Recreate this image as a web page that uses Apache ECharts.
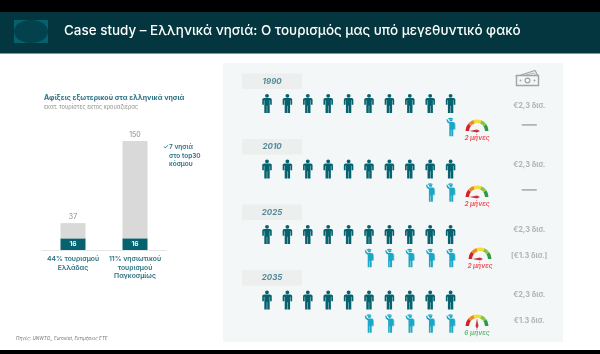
<!DOCTYPE html>
<html>
<head>
<meta charset="utf-8">
<style>
  html, body { margin: 0; padding: 0; background: #fff; }
  #chart { width: 600px; height: 354px; }
</style>
</head>
<body>
<div id="chart"></div>
<script src="https://cdn.jsdelivr.net/npm/echarts@6/dist/echarts.min.js"></script>
<script>
// bars: million arrivals
const barLabels = ['44% τουρισμού\nΕλλάδας', '11% νησιωτικού\nτουρισμού\nΠαγκοσμίως']
const islandArrivals = [16, 16]
const totalArrivals = [37, 150]

// pictogram rows, one entry per period
const years = ['1990', '2010', '2025', '2035']
const residents = [10, 10, 10, 10]
const tourists = [1, 2, 5, 5]
const seasonMonths = [2, 2, 2, 6]
const residentSpend = ['€2,3 δισ.', '€2,3 δισ.', '€2,3 δισ.', '€2,3 δισ.']
const touristSpend = ['—', '—', '[€1.3 δισ.]', '€1.3 δισ.']

const TEAL = '#05626e'
const CYAN = '#1ba7c5'
const TEXT_TEAL = '#2b7183'
const GREY = '#a3a3a3'
const FONT = 'Inter'

const personPath = 'path://M50 2a19 19 0 1 0 .01 0zM22 44H78Q96 44 96 60V112H80V66H76V198H52V122H48V198H24V66H20V112H4V60Q4 44 22 44Z'
const touristPath = 'path://M20 8Q46 -4 72 8L70 18H24ZM32 21H68Q68 42 50 42Q36 42 32 21ZM4 18H15L26 38L38 46H70Q90 50 90 70V120H74V198H54V130H50V198H34V66L12 50Z'
const packPath = 'path://M10 0H60Q100 10 100 40V90Q100 100 70 100H0Z'

// layout of the pictogram panel, in slots and rows of the hidden axes
const headerSlot = 1.25
const spendSlot = 13.85
const headerRow = -0.34
const touristRow = 0.36
const spendRow = [0.03, -0.07, -0.07, -0.08]
const gaugeCenters = [[477, 131], [477, 197], [480, 259], [477, 326]]

function residentData() {
  let out = []
  residents.forEach((n, p) => {
    for (let i = 1; i <= n; i++) out.push([i, p])
  })
  return out
}

function touristData() {
  let out = []
  tourists.forEach((n, p) => {
    for (let i = 0; i < n; i++) out.push([10 - i, p + touristRow])
  })
  return out
}

function spendData() {
  let out = []
  residentSpend.forEach((s, p) => out.push({ value: [spendSlot, p + spendRow[p]], label: s }))
  touristSpend.forEach((s, p) => out.push({ value: [spendSlot, p + touristRow - 0.04], label: s }))
  return out
}

function gaugeSeries(months, i) {
  const good = months > 2
  return {
    type: 'gauge',
    center: gaugeCenters[i],
    radius: 11.5,
    min: 2,
    max: 10,
    startAngle: 180,
    endAngle: 0,
    silent: true,
    animation: false,
    axisLine: {
      lineStyle: {
        width: 3.5,
        color: [[0.22, '#d2232a'], [0.4, '#f08a24'], [0.62, '#f4dc3c'], [0.8, '#8cc63f'], [1, '#2e9a47']]
      }
    },
    axisTick: { show: false },
    splitLine: { show: false },
    axisLabel: { show: false },
    pointer: { length: '65%', width: 1.5, itemStyle: { color: '#c9353c' } },
    anchor: { show: false },
    title: { show: false },
    detail: {
      valueAnimation: false,
      offsetCenter: [0, 7],
      formatter: '{value} μήνες',
      fontFamily: FONT,
      fontSize: 6.5,
      fontStyle: 'italic',
      color: good ? '#6fbb80' : '#ee5a64'
    },
    data: [{ value: months }]
  }
}

function txt(x, y, text, size, color, extra) {
  return {
    type: 'text',
    x: x,
    y: y,
    z: 5,
    style: Object.assign({
      text: text,
      fontFamily: FONT,
      fontSize: size,
      fill: color,
      verticalAlign: 'middle'
    }, extra || {})
  }
}

const chrome = [
  { type: 'rect', z: -5, shape: { x: 0, y: 0, width: 600, height: 12 }, style: { fill: '#000' } },
  { type: 'rect', z: -5, shape: { x: 0, y: 12, width: 600, height: 41 }, style: { fill: '#03363f' } },
  { type: 'rect', z: -5, shape: { x: 0, y: 53, width: 600, height: 1 }, style: { fill: '#7f9a9e' } },
  { type: 'rect', z: -5, shape: { x: 0, y: 350, width: 600, height: 4 }, style: { fill: '#000' } },
  { type: 'rect', z: -4, shape: { x: 14, y: 20, width: 34, height: 23 }, style: { fill: '#05616d' } },
  { type: 'ellipse', z: -3, shape: { cx: 31, cy: 31.5, rx: 17, ry: 11.5 }, style: { fill: '#03414c' } },
  { type: 'rect', z: -5, shape: { x: 223, y: 63, width: 340, height: 279 }, style: { fill: '#f4f7f7' } },
  // banknotes icon
  { type: 'polygon', z: 1, shape: { points: [[518, 76], [535, 70.5], [538, 76]] }, style: { fill: '#f4f7f7', stroke: GREY, lineWidth: 1.2 } },
  { type: 'polygon', z: 1, shape: { points: [[522, 76], [534, 73], [536, 76]] }, style: { fill: 'none', stroke: GREY, lineWidth: 0.8 } },
  { type: 'rect', z: 1, shape: { x: 516.5, y: 75.5, width: 22, height: 10 }, style: { fill: '#f4f7f7', stroke: GREY, lineWidth: 1.4 } },
  { type: 'circle', z: 2, shape: { cx: 527.5, cy: 80.5, r: 2.4 }, style: { fill: 'none', stroke: GREY, lineWidth: 1.2 } },
  { type: 'circle', z: 2, shape: { cx: 520.5, cy: 80.5, r: 1 }, style: { fill: GREY } },
  { type: 'circle', z: 2, shape: { cx: 534.5, cy: 80.5, r: 1 }, style: { fill: GREY } },
  txt(64, 30.5, 'Case study – Ελληνικά νησιά: Ο τουρισμός μας υπό μεγεθυντικό φακό', 13.45, '#fff', { fontWeight: 500 }),
  txt(44, 97.5, 'Αφίξεις εξωτερικού στα ελληνικά νησιά', 7, TEXT_TEAL, { fontWeight: 700 }),
  txt(44, 107, 'εκατ. τουρίστες εκτός κρουαζιέρας', 5.6, '#8f8f8f'),
  txt(163, 147, '✓', 6.5, TEXT_TEAL),
  txt(169, 156, '7 νησιά\nστο top30\nκόσμου', 6.5, TEXT_TEAL, { fontWeight: 600, lineHeight: 8.5 }),
  txt(16, 338.5, 'Πηγές: UNWTO,, Eurostat, Εκτιμήσεις ΕΤΕ', 4.6, '#777', { fontStyle: 'italic' })
]

const option = {
  animation: false,
  textStyle: { fontFamily: FONT },
  graphic: chrome,
  grid: [
    { left: 42, top: 141, width: 124, height: 109 },
    { left: 246.6, top: 70.75, width: 306, height: 262 }
  ],
  xAxis: [
    {
      type: 'category',
      gridIndex: 0,
      data: barLabels,
      axisTick: { show: false },
      axisLine: { lineStyle: { color: '#e6e6e6', width: 1 } },
      axisLabel: {
        interval: 0,
        color: TEXT_TEAL,
        fontSize: 6.8,
        fontWeight: 600,
        lineHeight: 8.5,
        margin: 5
      }
    },
    { type: 'value', gridIndex: 1, min: 0, max: 15, show: false }
  ],
  yAxis: [
    { type: 'value', gridIndex: 0, min: 0, max: 150, show: false },
    { type: 'value', gridIndex: 1, min: -0.5, max: 3.5, inverse: true, show: false }
  ],
  series: [
    {
      type: 'bar',
      stack: 'arrivals',
      barWidth: 25,
      data: islandArrivals,
      itemStyle: { color: TEAL },
      label: { show: true, position: 'inside', color: '#fff', fontSize: 6.8, fontWeight: 600 }
    },
    {
      type: 'bar',
      stack: 'arrivals',
      barWidth: 25,
      data: totalArrivals.map((t, i) => t - islandArrivals[i]),
      itemStyle: { color: '#d9d9d9' },
      label: {
        show: true,
        position: 'top',
        distance: 3,
        color: '#8a8a8a',
        fontSize: 7,
        formatter: p => totalArrivals[p.dataIndex]
      }
    },
    {
      type: 'scatter',
      xAxisIndex: 1,
      yAxisIndex: 1,
      clip: false,
      symbol: 'rect',
      symbolSize: [60, 15.5],
      itemStyle: { color: '#ebebeb' },
      data: years.map((y, p) => [headerSlot, p + headerRow, y]),
      label: {
        show: true,
        position: 'inside',
        formatter: p => p.value[2],
        color: TEXT_TEAL,
        fontSize: 8,
        fontWeight: 700,
        fontStyle: 'italic'
      }
    },
    {
      type: 'scatter',
      xAxisIndex: 1,
      yAxisIndex: 1,
      clip: false,
      symbol: personPath,
      symbolSize: [9.5, 19],
      itemStyle: { color: TEAL, opacity: 1 },
      data: residentData()
    },
    {
      type: 'scatter',
      xAxisIndex: 1,
      yAxisIndex: 1,
      clip: false,
      symbol: packPath,
      symbolSize: [3, 8],
      symbolOffset: [3.5, -1],
      itemStyle: { color: '#8ed2e2', opacity: 1 },
      data: touristData()
    },
    {
      type: 'scatter',
      xAxisIndex: 1,
      yAxisIndex: 1,
      clip: false,
      symbol: touristPath,
      symbolSize: [8.5, 18.5],
      itemStyle: { color: CYAN, opacity: 1 },
      data: touristData()
    },
    {
      type: 'scatter',
      xAxisIndex: 1,
      yAxisIndex: 1,
      clip: false,
      symbolSize: 0,
      data: spendData().map(d => ({
        value: d.value,
        label: {
          show: true,
          position: 'inside',
          formatter: d.label,
          color: GREY,
          fontSize: d.label === '—' ? 15 : 7.4,
          fontWeight: 700
        }
      }))
    }
  ].concat(seasonMonths.map(gaugeSeries))
}

const chart = echarts.init(document.getElementById('chart'), null, { renderer: 'canvas' })
chart.setOption(option)
</script>
</body>
</html>
